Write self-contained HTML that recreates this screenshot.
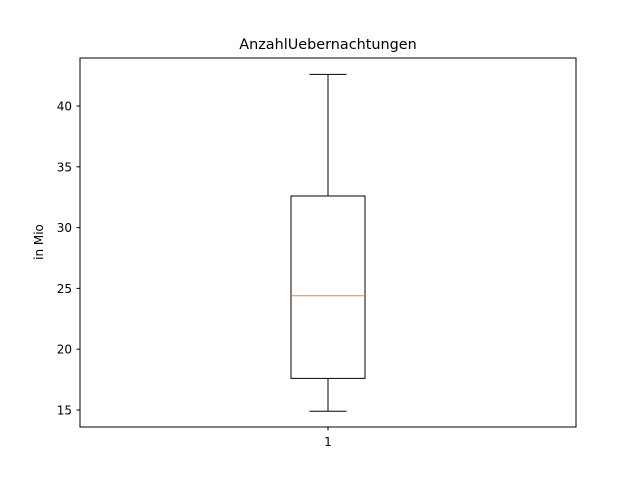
<!DOCTYPE html>
<html><head><meta charset="utf-8"><style>
body{margin:0;background:#fff;}
svg text{font-family:"DejaVu Sans","Liberation Sans",sans-serif;}
</style></head><body>
<svg width="640" height="480" xmlns="http://www.w3.org/2000/svg">
<rect width="640" height="480" fill="#fff"/>
<text x="328" y="49" text-anchor="middle" font-size="14.4">AnzahlUebernachtungen</text>
<text transform="translate(43,242) rotate(-90)" text-anchor="middle" font-size="12">in Mio</text>
<g id="plot"></g>
<rect x="80" y="58" width="496" height="369" fill="none" stroke="#000" stroke-width="1"/>
</svg>
<script>
const categories=["1"];
const whiskerLow=[14.9];
const q1=[17.6];
const median=[24.4];
const q3=[32.6];
const whiskerHigh=[42.6];
const yTicks=[15,20,25,30,35,40];
const y0=15,yPix0=410,pxPer=12.16;
function Y(v){return yPix0-(v-y0)*pxPer;}
function X(i){return 80+496*(i+1)/(categories.length+1);}
const NS="http://www.w3.org/2000/svg";
const g=document.getElementById('plot');
function mk(t,a){const e=document.createElementNS(NS,t);for(const k in a)e.setAttribute(k,a[k]);g.appendChild(e);return e;}
yTicks.forEach(v=>{
 const l=mk('line',{x1:76.5,x2:80,y1:Y(v),y2:Y(v),stroke:'#000'});
 
 
 const t=mk('text',{x:72,y:Y(v)+4.5,'text-anchor':'end','font-size':12});
 t.textContent=v;
 
 
});
categories.forEach((c,i)=>{
 const cx=X(i),hw=37;
 const tk=mk('line',{x1:cx,x2:cx,y1:427,y2:430.5,stroke:'#000'});
 
 
 const t=mk('text',{x:cx,y:446,'text-anchor':'middle','font-size':12});
 t.textContent=c;
 
 
 const w1=mk('line',{x1:cx,x2:cx,y1:Y(whiskerLow[i]),y2:Y(q1[i]),stroke:'#000'});
 
 
 const w2=mk('line',{x1:cx,x2:cx,y1:Y(q3[i]),y2:Y(whiskerHigh[i]),stroke:'#000'});
 
 
 const c1=mk('line',{x1:cx-18.5,x2:cx+18.5,y1:Y(whiskerLow[i]),y2:Y(whiskerLow[i]),stroke:'#000'});
 
 
 const c2=mk('line',{x1:cx-18.5,x2:cx+18.5,y1:Y(whiskerHigh[i]),y2:Y(whiskerHigh[i]),stroke:'#000'});
 
 
 const b=mk('rect',{x:cx-hw,y:Y(q3[i]),width:hw*2,height:Y(q1[i])-Y(q3[i]),fill:'none',stroke:'#000'});
 
 
 const m=mk('line',{x1:cx-hw,x2:cx+hw,y1:Y(median[i]),y2:Y(median[i]),stroke:'#ff7f0e'});
 
 
});
</script>
</body></html>
